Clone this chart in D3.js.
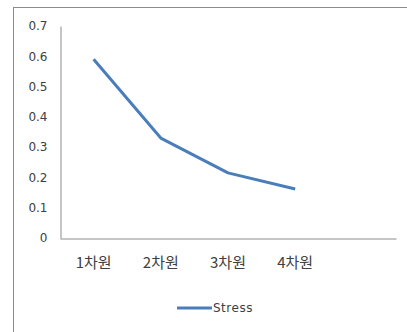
<!DOCTYPE html>
<html>
<head>
<meta charset="utf-8">
<script src="https://cdn.jsdelivr.net/npm/d3@7"></script>
<style>
  html, body { margin: 0; padding: 0; background: #fff; }
  svg { display: block; }
  text { font-family: "DejaVu Sans", "Noto Sans CJK KR", sans-serif; fill: #404040; }
</style>
</head>
<body>
<svg id="chart" width="407" height="332"></svg>
<script>
// Stress per dimension
const categories = ["1차원", "2차원", "3차원", "4차원", ""];
const stress = [0.59, 0.33, 0.215, 0.162];
const yTicks = [0, 0.1, 0.2, 0.3, 0.4, 0.5, 0.6, 0.7];
const seriesName = "Stress";

const svg = d3.select("#chart");
const W = 407, H = 332;
const plot = { left: 60, right: 396, top: 26, bottom: 238 };

// outer chart frame
svg.append("rect")
  .attr("x", 13.5).attr("y", 7.5)
  .attr("width", W).attr("height", H)
  .attr("fill", "none").attr("stroke", "#8c8c8c").attr("stroke-width", 1);

const x = d3.scaleBand().domain(categories).range([plot.left, plot.right]);
const y = d3.scaleLinear().domain([0, 0.7]).range([plot.bottom, plot.top]);

// y axis
const yAxis = svg.append("g")
  .attr("transform", `translate(${plot.left + 0.5},0)`)
  .call(d3.axisLeft(y).tickValues(yTicks).tickSize(0).tickPadding(13)
    .tickFormat(d => d === 0 ? "0" : d3.format(".1f")(d)));
yAxis.select(".domain").attr("stroke", "#8c8c8c");
yAxis.selectAll("text")
  .style("font-family", "'DejaVu Sans', sans-serif")
  .style("font-size", "12px").attr("fill", "#404040");

// x axis
const xAxis = svg.append("g")
  .attr("transform", `translate(0,${plot.bottom + 0.5})`)
  .call(d3.axisBottom(x).tickSize(0).tickPadding(19));
xAxis.select(".domain").attr("stroke", "#8c8c8c");
xAxis.selectAll("text")
  .style("font-family", "'Noto Sans CJK KR', sans-serif")
  .style("font-size", "15px").attr("fill", "#404040");

// series line
const line = d3.line()
  .x((d, i) => x(categories[i]) + x.bandwidth() / 2)
  .y(d => y(d));
svg.append("path")
  .datum(stress)
  .attr("d", line)
  .attr("fill", "none")
  .attr("stroke", "#4a7ebb")
  .attr("stroke-width", 3)
  .attr("stroke-linejoin", "round");

// legend
const lg = svg.append("g").attr("transform", "translate(177,308)");
lg.append("line")
  .attr("x1", 0).attr("x2", 35).attr("y1", 0).attr("y2", 0)
  .attr("stroke", "#4a7ebb").attr("stroke-width", 3);
lg.append("text")
  .attr("x", 36).attr("y", 0).attr("dy", "0.35em")
  .style("font-size", "12px")
  .style("letter-spacing", "0.5px")
  .text(seriesName);
</script>
</body>
</html>
